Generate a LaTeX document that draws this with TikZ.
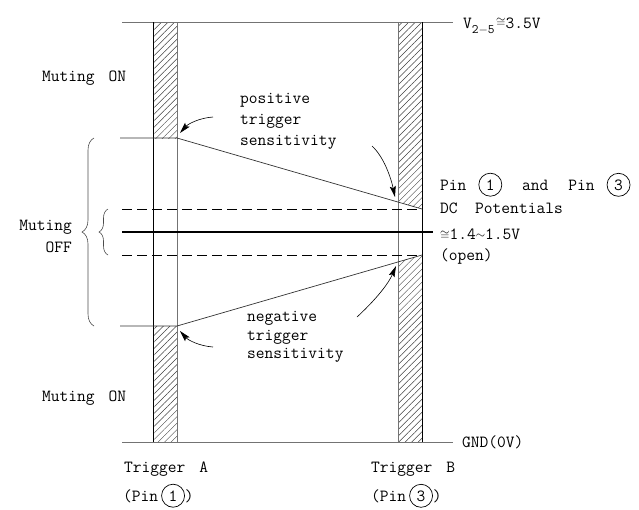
\documentclass[tikz,border=0pt]{standalone}
\usepackage{fontspec}
\usetikzlibrary{patterns.meta,decorations.pathreplacing,arrows.meta}
\newcommand\cnum[1]{\tikz[baseline=(cn.base)]\node[draw,circle,inner sep=0pt,minimum size=23pt,line width=0.7pt](cn){#1};}
\tikzset{
  blackln/.style={line width=0.7pt,draw=black},
  grayln/.style={line width=0.7pt,draw=black!55},
  slopeln/.style={line width=0.7pt,draw=black!80},
  hatchfill/.style={pattern={Lines[angle=45,distance=4.6pt,line width=0.45pt]},pattern color=black!75},
  lbl/.style={font=\ttfamily\addfontfeatures{FakeBold=0.7}\fontsize{17}{20}\selectfont,inner sep=0pt,anchor=base west},
  arr/.style={line width=0.6pt,-{Stealth[length=11pt,width=6pt,inset=2pt]}},
  dashln/.style={line width=0.7pt,dash pattern=on 10pt off 5pt},
  brc/.style={decorate,decoration={brace,amplitude=#1},line width=0.6pt,draw=black!70},
  brc/.default=10pt,
  thickln/.style={line width=2.6pt,draw=black}
}
\begin{document}
\begin{tikzpicture}[x=1pt,y=-1pt]
\useasboundingbox (0,0) rectangle (639,509);
% hatching
\path[hatchfill] (153.5,22) rectangle (177,138);
\path[hatchfill] (153.5,326) rectangle (177,442);
\path[hatchfill] (398,22) -- (422,22) -- (422,209) -- (398,202) -- cycle;
\path[hatchfill] (398,262) -- (422,255) -- (422,442) -- (398,442) -- cycle;
% rails
\draw[grayln] (122,22) -- (453,22);
\draw[grayln] (122,442) -- (453,442);
% bars
\draw[blackln] (153.5,22) -- (153.5,442);
\draw[grayln] (177,22) -- (177,442);
\draw[grayln] (398,22) -- (398,442);
\draw[blackln] (422,22) -- (422,442);
% sensitivity levels
\draw[slopeln] (120,138) -- (177,138) -- (422,209);
\draw[slopeln] (120,326) -- (177,326) -- (422,255);
\draw[dashln] (122,209) -- (422,209);
\draw[dashln] (122,255) -- (422,255);
\draw[thickln] (122,232) -- (433,232);
% braces
\draw[brc=12pt] (94,326) -- (94,138);
\draw[brc=9pt] (108,255) -- (108,209);
% labels
\node[lbl] (mon1) at (42,81) {Muting\hspace{14pt}ON};
\node[lbl] (mon2) at (42,401) {Muting\hspace{14pt}ON};
\node[lbl,anchor=base east] (moff1) at (72,230) {Muting};
\node[lbl,anchor=base east] (moff2) at (72,252) {OFF};
\node[lbl] (pos1) at (240,103) {positive};
\node[lbl] (pos2) at (240,124) {trigger};
\node[lbl] (pos3) at (240,145) {sensitivity};
\node[lbl] (neg1) at (247,321) {negative};
\node[lbl] (neg2) at (247,340) {trigger};
\node[lbl] (neg3) at (247,358) {sensitivity};
\node[lbl] (pins) at (440,190) {Pin\hspace{12pt}\cnum{1}\hspace{20pt}and\hspace{20pt}Pin\hspace{12pt}\cnum{3}};
\node[lbl] (dcp) at (440,213) {DC\ \ Potentials};
\node[lbl] (dcv) at (440,239) {{\fontsize{13}{13}\selectfont$\cong$}1.4\raisebox{1pt}{\fontsize{12}{12}\selectfont$\sim$}1.5V};
\node[lbl] (opn) at (440,260) {(open)};
\node[lbl] (vcc) at (463,28) {V\raisebox{-5pt}{\fontsize{13}{13}\selectfont 2$-$5}\hspace{1.5pt}\raisebox{2pt}{\fontsize{12}{12}\selectfont$\cong$}3.5V};
\node[lbl] (gnd) at (462,447) {GND(0V)};
\node[lbl] (trA) at (124,472) {Trigger\hspace{14pt}A};
\node[lbl] (pnA) at (123,501) {(Pin\hspace{3pt}\cnum{1})};
\node[lbl] (trB) at (371,472) {Trigger\hspace{14pt}B};
\node[lbl] (pnB) at (371,501) {(Pin\hspace{3pt}\cnum{3})};
% arrows
\coordinate (p1s) at (213,117); \coordinate (p1e) at (180,133);
\draw[arr] (p1s) .. controls (199,118) and (188,124) .. (p1e);
\coordinate (p2s) at (372,146); \coordinate (p2e) at (395,197);
\draw[arr] (p2s) .. controls (384,157) and (391,178) .. (p2e);
\coordinate (n1s) at (357,317); \coordinate (n1e) at (396,266);
\draw[arr] (n1s) .. controls (370,305) and (387,287) .. (n1e);
\coordinate (n2s) at (213,347); \coordinate (n2e) at (180,331);
\draw[arr] (n2s) .. controls (199,346) and (188,340) .. (n2e);
\end{tikzpicture}
\end{document}
